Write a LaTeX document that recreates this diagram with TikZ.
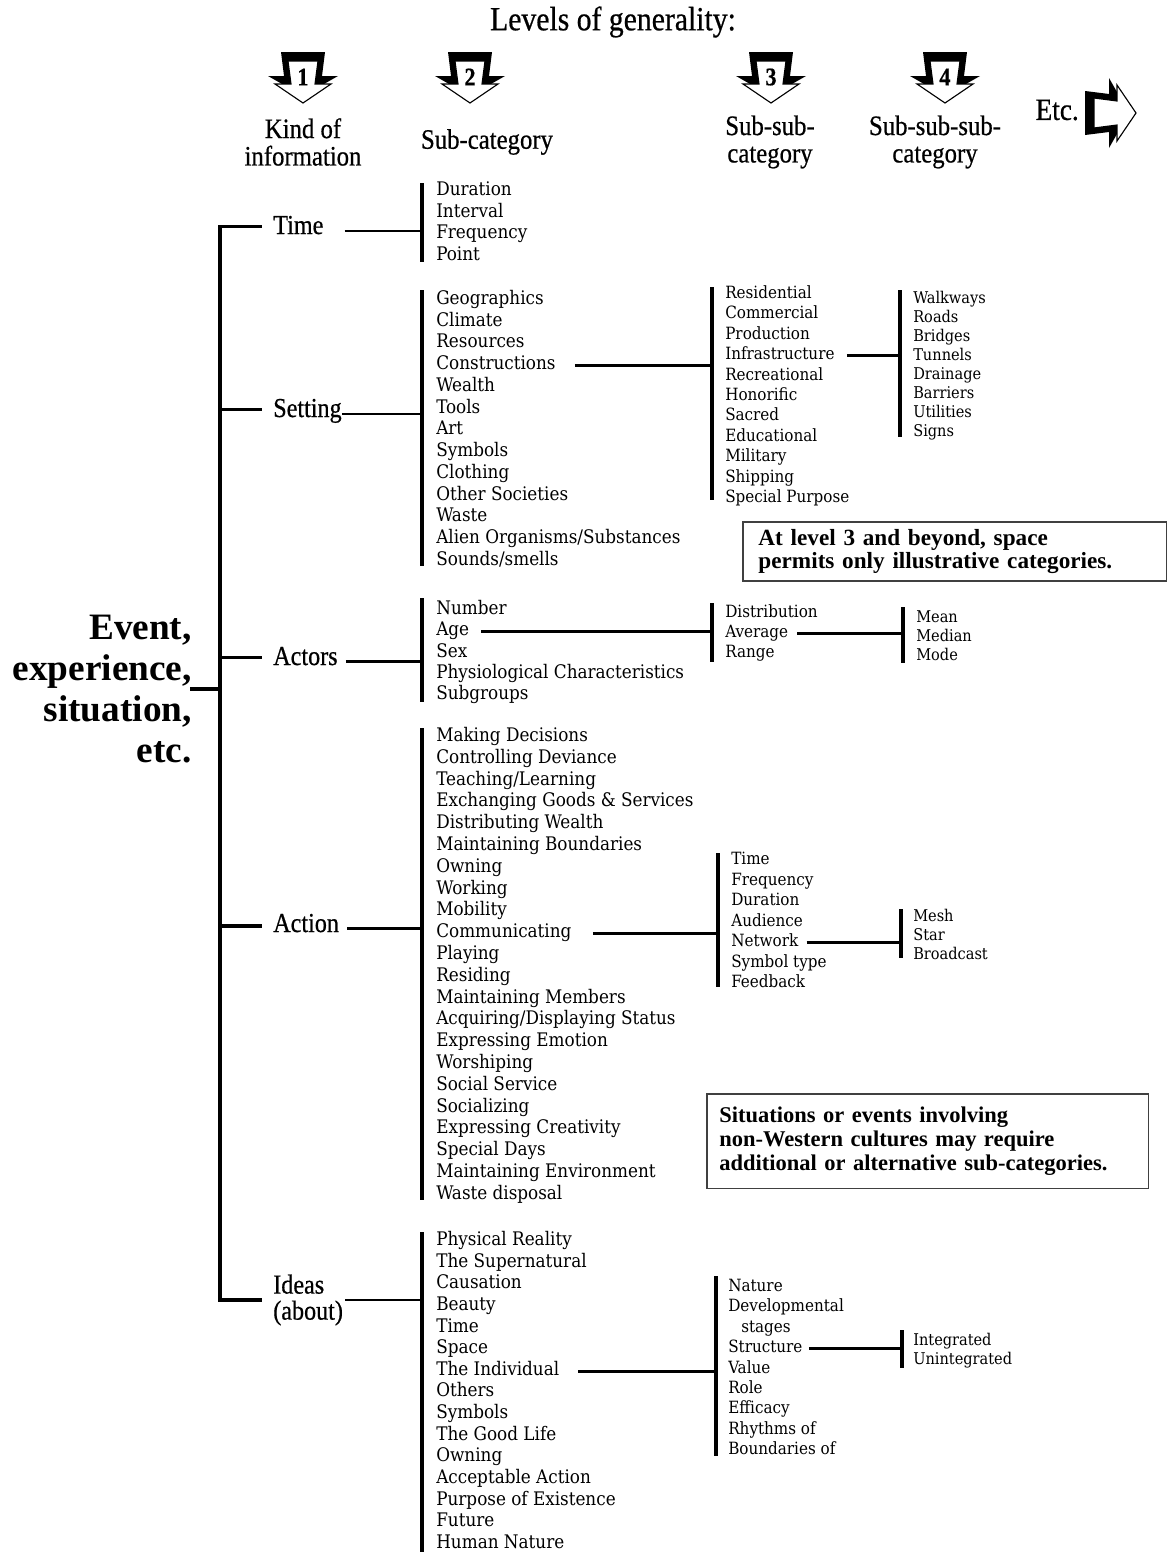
\documentclass[tikz,border=0pt]{standalone}
\usepackage{fontspec}
\setmainfont{Liberation Serif}
\newfontfamily\condfont[FakeStretch=0.88, FakeBold=0.6]{Liberation Serif}
\newfontfamily\listfont{DejaVu Serif Condensed}

\tikzset{
  trunkline/.style={line width=2.4pt, line cap=rect},
  bracketline/.style={line width=2.4pt},
  linkline/.style={line width=2pt},
  thinline/.style={line width=1.5pt},
  titletext/.style={font=\condfont\fontsize{24}{24}\selectfont},
  headtext/.style={font=\condfont\fontsize{20}{19.5}\selectfont, align=center},
  lvlnum/.style={font=\condfont\bfseries\fontsize{18}{18}\selectfont, inner sep=0pt},
  kind/.style={font=\condfont\fontsize{19.5}{18.5}\selectfont, anchor=base west, inner sep=0pt, align=left},
  item2/.style={font=\listfont\fontsize{13.3}{14}\selectfont, anchor=base west, inner sep=0pt},
  item3/.style={font=\listfont\fontsize{12}{13}\selectfont, anchor=base west, inner sep=0pt},
  item4/.style={font=\listfont\fontsize{11.5}{12}\selectfont, anchor=base west, inner sep=0pt},
  notebox/.style={draw=black!75, line width=0.9pt, anchor=north west, align=left, outer sep=0pt},
  lvlarrow/.pic={
    \fill[black] (-22,0) -- (22,0) -- (19,24) -- (35,24) -- (0,44) -- (-35,24) -- (-19,24) -- cycle;
    \filldraw[fill=white, draw=black, line width=0.8pt] (-15,9) -- (15,9) -- (12,32) -- (28,32) -- (0,51) -- (-28,32) -- (-12,32) -- cycle;
  }
}

\begin{document}
\begin{tikzpicture}[x=0.025cm, y=-0.025cm]
\useasboundingbox (0,0) rectangle (1167,1552);

% Title, level arrows and column heads
\node[titletext] (title) at (613,22) {Levels of generality:};
\pic at (303,52) {lvlarrow};
\node[lvlnum] (num1) at (303,77) {1};
\pic at (470,52) {lvlarrow};
\node[lvlnum] (num2) at (470,77) {2};
\pic at (771,52) {lvlarrow};
\node[lvlnum] (num3) at (771,77) {3};
\pic at (945,52) {lvlarrow};
\node[lvlnum] (num4) at (945,77) {4};
\node[font=\condfont\fontsize{22}{22}\selectfont, anchor=east, inner sep=0pt] (etc) at (1079,110) {Etc.};
\pic[rotate=90] at (1085,113) {lvlarrow};
\node[headtext] (head1) at (303,142) {Kind of\\information};
\node[headtext] (head2) at (487,142) {Sub-category};
\node[headtext] (head3) at (770,142) {Sub-sub-\\category};
\node[headtext] (head4) at (935,142) {Sub-sub-sub-\\category};

% Root and trunk
\node[font=\bfseries\fontsize{26.5}{29}\selectfont, align=right, anchor=east, inner sep=0pt] (root) at (192,689) {Event,\\experience,\\situation,\\etc.};
\coordinate (trunk) at (220,0);
\node[kind] (k-time) at (273,234) {Time};
\node[kind] (k-setting) at (273,417) {Setting};
\node[kind] (k-actors) at (273,665) {Actors};
\node[kind] (k-action) at (273,932) {Action};
\node[kind, anchor=west] (k-ideas) at (273,1300) {Ideas\\(about)};
\draw[trunkline] ([yshift=3pt]k-time.mid west -| trunk) -- (k-ideas.west -| trunk);
\draw[trunkline] (root.east) -- (root.east -| trunk);
\draw[trunkline] ([yshift=3pt]k-time.mid west -| trunk) -- ([xshift=-9pt, yshift=3pt]k-time.mid west);
\draw[trunkline] ([yshift=3pt]k-setting.mid west -| trunk) -- ([xshift=-9pt, yshift=3pt]k-setting.mid west);
\draw[trunkline] ([yshift=3pt]k-actors.mid west -| trunk) -- ([xshift=-9pt, yshift=3pt]k-actors.mid west);
\draw[trunkline] ([yshift=2pt]k-action.mid west -| trunk) -- ([xshift=-9pt, yshift=2pt]k-action.mid west);
\draw[trunkline] (k-ideas.west -| trunk) -- ([xshift=-9pt]k-ideas.west);

% Level 2: Time
\coordinate (tm-top) at (422,183);
\coordinate (tm-bot) at (422,262);
\draw[bracketline] (tm-top) -- (tm-bot);
\draw[thinline] ([xshift=15pt]k-time.mid east) -- (k-time.mid east -| tm-top);
\node[item2] (tm1) at (436,195) {Duration};
\node[item2] (tm2) at (436,217) {Interval};
\node[item2] (tm3) at (436,238) {Frequency};
\node[item2] (tm4) at (436,260) {Point};

% Level 2: Setting
\coordinate (st-top) at (422,290);
\coordinate (st-bot) at (422,566);
\draw[bracketline] (st-top) -- (st-bot);
\draw[thinline] (k-setting.mid east) -- (k-setting.mid east -| st-top);
\node[item2] (st1) at (436,304) {Geographics};
\node[item2] (st2) at (436,326) {Climate};
\node[item2] (st3) at (436,347) {Resources};
\node[item2] (st4) at (436,369) {Constructions};
\node[item2] (st5) at (436,391) {Wealth};
\node[item2] (st6) at (436,413) {Tools};
\node[item2] (st7) at (436,434) {Art};
\node[item2] (st8) at (436,456) {Symbols};
\node[item2] (st9) at (436,478) {Clothing};
\node[item2] (st10) at (436,500) {Other Societies};
\node[item2] (st11) at (436,521) {Waste};
\node[item2] (st12) at (436,543) {Alien Organisms/Substances};
\node[item2] (st13) at (436,565) {Sounds/smells};

% Level 3 and 4 under Constructions
\coordinate (cs-top) at (712,287);
\coordinate (cs-bot) at (712,500);
\draw[bracketline] (cs-top) -- (cs-bot);
\draw[linkline] ([xshift=13.5pt]st4.mid east) -- (st4.mid east -| cs-top);
\node[item3] (cs1) at (725,298) {Residential};
\node[item3] (cs2) at (725,318) {Commercial};
\node[item3] (cs3) at (725,339) {Production};
\node[item3] (cs4) at (725,359) {Infrastructure};
\node[item3] (cs5) at (725,380) {Recreational};
\node[item3] (cs6) at (725,400) {Honorific};
\node[item3] (cs7) at (725,420) {Sacred};
\node[item3] (cs8) at (725,441) {Educational};
\node[item3] (cs9) at (725,461) {Military};
\node[item3] (cs10) at (725,482) {Shipping};
\node[item3] (cs11) at (725,502) {Special Purpose};
\coordinate (if-top) at (900,290);
\coordinate (if-bot) at (900,437);
\draw[bracketline] (if-top) -- (if-bot);
\draw[linkline] ([xshift=8.5pt]cs4.mid east) -- (cs4.mid east -| if-top);
\node[item4] (if1) at (913,303) {Walkways};
\node[item4] (if2) at (913,322) {Roads};
\node[item4] (if3) at (913,341) {Bridges};
\node[item4] (if4) at (913,360) {Tunnels};
\node[item4] (if5) at (913,379) {Drainage};
\node[item4] (if6) at (913,398) {Barriers};
\node[item4] (if7) at (913,417) {Utilities};
\node[item4] (if8) at (913,436) {Signs};

\node[notebox, text width=279pt, inner xsep=11pt, minimum width=301pt, minimum height=42pt,
  font=\bfseries\fontsize{16.5}{14.7}\selectfont] (note1) at (743,522)
  {At level 3 and beyond, space\\permits only illustrative categories.};

% Level 2: Actors
\coordinate (ac-top) at (422,598);
\coordinate (ac-bot) at (422,702);
\draw[bracketline] (ac-top) -- (ac-bot);
\draw[linkline] ([xshift=5.7pt]k-actors.mid east) -- (k-actors.mid east -| ac-top);
\node[item2] (ac1) at (436,614) {Number};
\node[item2] (ac2) at (436,635) {Age};
\node[item2] (ac3) at (436,657) {Sex};
\node[item2] (ac4) at (436,678) {Physiological Characteristics};
\node[item2] (ac5) at (436,699) {Subgroups};
\coordinate (ag-top) at (712,603);
\coordinate (ag-bot) at (712,662);
\draw[bracketline] (ag-top) -- (ag-bot);
\draw[linkline] ([xshift=8.5pt]ac2.mid east) -- (ac2.mid east -| ag-top);
\node[item3] (ag1) at (725,617) {Distribution};
\node[item3] (ag2) at (725,637) {Average};
\node[item3] (ag3) at (725,657) {Range};
\coordinate (av-top) at (903,607);
\coordinate (av-bot) at (903,663);
\draw[bracketline] (av-top) -- (av-bot);
\draw[linkline] ([xshift=6.4pt]ag2.mid east) -- (ag2.mid east -| av-top);
\node[item4] (av1) at (916,622) {Mean};
\node[item4] (av2) at (916,641) {Median};
\node[item4] (av3) at (916,660) {Mode};

% Level 2: Action
\coordinate (an-top) at (422,728);
\coordinate (an-bot) at (422,1200);
\draw[bracketline] (an-top) -- (an-bot);
\draw[linkline] ([xshift=5.7pt]k-action.mid east) -- (k-action.mid east -| an-top);
\node[item2] (an1) at (436,741) {Making Decisions};
\node[item2] (an2) at (436,763) {Controlling Deviance};
\node[item2] (an3) at (436,785) {Teaching/Learning};
\node[item2] (an4) at (436,806) {Exchanging Goods \& Services};
\node[item2] (an5) at (436,828) {Distributing Wealth};
\node[item2] (an6) at (436,850) {Maintaining Boundaries};
\node[item2] (an7) at (436,872) {Owning};
\node[item2] (an8) at (436,894) {Working};
\node[item2] (an9) at (436,915) {Mobility};
\node[item2] (an10) at (436,937) {Communicating};
\node[item2] (an11) at (436,959) {Playing};
\node[item2] (an12) at (436,981) {Residing};
\node[item2] (an13) at (436,1003) {Maintaining Members};
\node[item2] (an14) at (436,1024) {Acquiring/Displaying Status};
\node[item2] (an15) at (436,1046) {Expressing Emotion};
\node[item2] (an16) at (436,1068) {Worshiping};
\node[item2] (an17) at (436,1090) {Social Service};
\node[item2] (an18) at (436,1112) {Socializing};
\node[item2] (an19) at (436,1133) {Expressing Creativity};
\node[item2] (an20) at (436,1155) {Special Days};
\node[item2] (an21) at (436,1177) {Maintaining Environment};
\node[item2] (an22) at (436,1199) {Waste disposal};
\coordinate (cm-top) at (718,853);
\coordinate (cm-bot) at (718,987);
\draw[bracketline] (cm-top) -- (cm-bot);
\draw[linkline] ([xshift=15pt]an10.mid east) -- (an10.mid east -| cm-top);
\node[item3] (cm1) at (731,864) {Time};
\node[item3] (cm2) at (731,885) {Frequency};
\node[item3] (cm3) at (731,905) {Duration};
\node[item3] (cm4) at (731,926) {Audience};
\node[item3] (cm5) at (731,946) {Network};
\node[item3] (cm6) at (731,967) {Symbol type};
\node[item3] (cm7) at (731,987) {Feedback};
\coordinate (nw-top) at (901,909);
\coordinate (nw-bot) at (901,958);
\draw[bracketline] (nw-top) -- (nw-bot);
\draw[linkline] ([xshift=5.7pt]cm5.mid east) -- (cm5.mid east -| nw-top);
\node[item4] (nw1) at (913,921) {Mesh};
\node[item4] (nw2) at (913,940) {Star};
\node[item4] (nw3) at (913,959) {Broadcast};

\node[notebox, text width=296pt, inner xsep=8.5pt, minimum width=313.7pt, minimum height=67pt,
  font=\bfseries\fontsize{16}{17.3}\selectfont] (note2) at (707,1094)
  {Situations or events involving\\non-Western cultures may require\\additional or alternative sub-categories.};

% Level 2: Ideas
\coordinate (id-top) at (422,1232);
\coordinate (id-bot) at (422,1552);
\draw[bracketline] (id-top) -- (id-bot);
\draw[linkline] ([xshift=1.4pt]k-ideas.east) -- (k-ideas.east -| id-top);
\node[item2] (id1) at (436,1245) {Physical Reality};
\node[item2] (id2) at (436,1267) {The Supernatural};
\node[item2] (id3) at (436,1288) {Causation};
\node[item2] (id4) at (436,1310) {Beauty};
\node[item2] (id5) at (436,1332) {Time};
\node[item2] (id6) at (436,1353) {Space};
\node[item2] (id7) at (436,1375) {The Individual};
\node[item2] (id8) at (436,1396) {Others};
\node[item2] (id9) at (436,1418) {Symbols};
\node[item2] (id10) at (436,1440) {The Good Life};
\node[item2] (id11) at (436,1461) {Owning};
\node[item2] (id12) at (436,1483) {Acceptable Action};
\node[item2] (id13) at (436,1505) {Purpose of Existence};
\node[item2] (id14) at (436,1526) {Future};
\node[item2] (id15) at (436,1548) {Human Nature};
\coordinate (iv-top) at (716,1276);
\coordinate (iv-bot) at (716,1456);
\draw[bracketline] (iv-top) -- (iv-bot);
\draw[linkline] ([xshift=13.5pt]id7.mid east) -- (id7.mid east -| iv-top);
\node[item3] (iv1) at (728,1291) {Nature};
\node[item3] (iv2) at (728,1311) {Developmental};
\node[item3] (iv3) at (741,1332) {stages};
\node[item3] (iv4) at (728,1352) {Structure};
\node[item3] (iv5) at (728,1373) {Value};
\node[item3] (iv6) at (728,1393) {Role};
\node[item3] (iv7) at (728,1413) {Efficacy};
\node[item3] (iv8) at (728,1434) {Rhythms of};
\node[item3] (iv9) at (728,1454) {Boundaries of};
\coordinate (sr-top) at (902,1330);
\coordinate (sr-bot) at (902,1368);
\draw[bracketline] (sr-top) -- (sr-bot);
\draw[linkline] ([xshift=4.3pt]iv4.mid east) -- (iv4.mid east -| sr-top);
\node[item4] (sr1) at (913,1345) {Integrated};
\node[item4] (sr2) at (913,1364) {Unintegrated};
\end{tikzpicture}
\end{document}
